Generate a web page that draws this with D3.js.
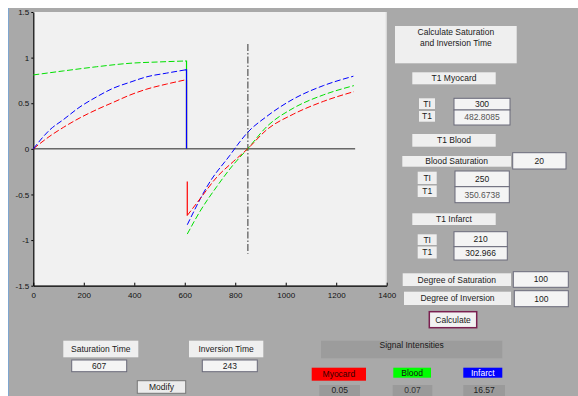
<!DOCTYPE html>
<html>
<head>
<meta charset="utf-8">
<script src="https://cdn.jsdelivr.net/npm/d3@7"></script>
<style>
  body { margin: 0; background: #fff; }
  text { font-family: "Liberation Sans", Arial, sans-serif; }
</style>
</head>
<body>
<svg id="fig" width="578" height="396"></svg>
<script>
// axis ticks
const xTicks = [0, 200, 400, 600, 800, 1000, 1200, 1400];
const yTicks = [-1.5, -1, -0.5, 0, 0.5, 1, 1.5];

// timing (ms)
const satTime = 607;
const invTime = 243;
const tiLine = satTime + invTime;
const zeroEnd = 1275;

// saturation recovery phase, [t, Mz]
const myoSat   = [[0,0],[66,0.14],[119,0.235],[185,0.34],[251,0.43],[317,0.51],[383,0.59],[450,0.655],[528,0.71],[601,0.755]];
const bloodSat = [[0,0.81],[119,0.854],[251,0.90],[383,0.938],[502,0.953],[601,0.963]];
const infSat   = [[0,0],[66,0.21],[119,0.32],[185,0.46],[251,0.57],[317,0.665],[383,0.73],[450,0.79],[528,0.83],[601,0.865]];

// inversion recovery phase, [t, Mz]
const myoInv   = [[610,-0.73],[660,-0.55],[727,-0.31],[792,-0.14],[849,0],[925,0.21],[1030,0.38],[1149,0.52],[1270,0.627]];
const bloodInv = [[610,-0.934],[660,-0.687],[727,-0.413],[792,-0.175],[849,0],[925,0.244],[1030,0.446],[1149,0.591],[1270,0.693]];
const infInv   = [[610,-0.832],[700,-0.36],[779,-0.07],[819,0.08],[845,0.168],[925,0.356],[1030,0.546],[1149,0.693],[1268,0.796]];

// drop lines at the pulses
const myoDrop = [[610,-0.358],[610,-0.73]];

const colors = { myo: "#ff0000", blood: "#00e000", inf: "#0000ff" };

const svg = d3.select("#fig");

// figure background
svg.append("rect").attr("x", 9).attr("y", 8).attr("width", 569).attr("height", 388).attr("fill", "#a9a9a9");
svg.append("line").attr("x1", 8.5).attr("x2", 8.5).attr("y1", 8).attr("y2", 396)
  .attr("stroke", "#7fa6cf").attr("stroke-width", 1);

// axes
const x = d3.scaleLinear().domain([0, 1400]).range([33.3, 386.7]);
const y = d3.scaleLinear().domain([-1.5, 1.5]).range([285.7, 12]);

svg.append("rect")
  .attr("x", x(0)).attr("y", y(1.5))
  .attr("width", x(1400) - x(0)).attr("height", y(-1.5) - y(1.5))
  .attr("fill", "#f1f1f1");
svg.append("line").attr("x1", x(1400) - 0.5).attr("x2", x(1400) - 0.5).attr("y1", y(1.5)).attr("y2", y(-1.5))
  .attr("stroke", "#d8d8d8");

const xAxis = svg.append("g")
  .attr("transform", `translate(0,${y(-1.5)})`)
  .call(d3.axisBottom(x).tickValues(xTicks).tickSizeInner(-3).tickSizeOuter(0).tickPadding(7).tickFormat(d3.format("d")));
const yAxis = svg.append("g")
  .attr("transform", `translate(${x(0)},0)`)
  .call(d3.axisLeft(y).tickValues(yTicks).tickSizeInner(2).tickSizeOuter(0).tickPadding(2).tickFormat(d => String(d)));

[xAxis, yAxis].forEach(g => {
  g.select(".domain").attr("stroke", "#000").attr("stroke-width", 1.2);
  g.selectAll(".tick line").attr("stroke", "#000");
  g.selectAll("text").attr("font-size", 8).attr("fill", "#111");
});

const line = d3.line().x(d => x(d[0])).y(d => y(d[1])).curve(d3.curveMonotoneX);
const straight = d3.line().x(d => x(d[0])).y(d => y(d[1]));

// zero line
svg.append("path").attr("d", straight([[0, 0], [zeroEnd, 0]]))
  .attr("fill", "none").attr("stroke", "#222").attr("stroke-width", 1);

// TI marker
svg.append("path").attr("d", straight([[tiLine, 1.15], [tiLine, -1.15]]))
  .attr("fill", "none").attr("stroke", "#555").attr("stroke-width", 1.2)
  .attr("stroke-dasharray", "7,2,1.5,2");

function curve(data, color) {
  svg.append("path").attr("d", line(data))
    .attr("fill", "none").attr("stroke", color).attr("stroke-width", 1)
    .attr("stroke-dasharray", "6,2.5");
}
function drop(data, color) {
  svg.append("path").attr("d", straight(data))
    .attr("fill", "none").attr("stroke", color).attr("stroke-width", 1.2);
}

curve(myoSat, colors.myo);
curve(bloodSat, colors.blood);
curve(infSat, colors.inf);
drop([[satTime, myoSat[myoSat.length - 1][1]], [satTime, 0]], colors.myo);
drop([[satTime - 6, bloodSat[bloodSat.length - 1][1]], [satTime, bloodSat[bloodSat.length - 1][1]], [satTime, 0]], colors.blood);
drop([[satTime - 6, infSat[infSat.length - 1][1]], [satTime, infSat[infSat.length - 1][1]], [satTime, 0]], colors.inf);
drop(myoDrop, colors.myo);
curve(bloodInv, colors.blood);
curve(infInv, colors.inf);
curve(myoInv, colors.myo);

// GUI widgets
function widget(x0, y0, x1, y1, opt) {
  const g = svg.append("g");
  g.append("rect").attr("x", x0).attr("y", y0).attr("width", x1 - x0).attr("height", y1 - y0)
    .attr("fill", opt.fill || "#efefef")
    .attr("stroke", opt.stroke || "none").attr("stroke-width", opt.sw || 1);
  const lines = [].concat(opt.text || []);
  lines.forEach((t, i) => {
    g.append("text")
      .attr("x", (x0 + x1) / 2)
      .attr("y", opt.ty !== undefined ? opt.ty + i * 11 : (y0 + y1) / 2)
      .attr("dy", "0.35em")
      .attr("text-anchor", "middle")
      .attr("font-size", opt.fs || 8.5)
      .attr("fill", opt.color || "#1a1a1a")
      .text(t);
  });
}
const edit = { fill: "#f4f4f4", stroke: "#6a6a7a" };

widget(395, 26, 516.7, 63.3, { text: ["Calculate Saturation", "and Inversion Time"], ty: 32.5 });

widget(412.3, 72.3, 495.7, 84.3, { text: "T1 Myocard" });
widget(419, 98.3, 435, 109, { text: "TI" });
widget(419, 111, 435, 121.7, { text: "T1" });
widget(454, 98.3, 510, 110, { ...edit, text: "300" });
widget(454, 110, 510, 125, { ...edit, text: "482.8085", color: "#555" });

widget(412.3, 134, 495.7, 146.7, { text: "T1 Blood" });
widget(402.3, 156, 511, 166.7, { text: "Blood Saturation" });
widget(512.7, 152.7, 566, 169, { ...edit, text: "20" });
widget(417.7, 171.7, 436.7, 184, { text: "TI" });
widget(417.7, 185.5, 436.7, 197, { text: "T1" });
widget(455, 171, 509.3, 186.7, { ...edit, text: "250" });
widget(455, 186.7, 509.3, 202.7, { ...edit, text: "350.6738", color: "#555" });

widget(412.3, 213.3, 495.7, 225, { text: "T1 Infarct" });
widget(417.7, 234.3, 436.7, 245, { text: "TI" });
widget(417.7, 246.5, 436.7, 258.5, { text: "T1" });
widget(454, 231.7, 507.3, 246.7, { ...edit, text: "210" });
widget(454, 246.7, 507.3, 260, { ...edit, text: "302.966" });

widget(402.7, 273.3, 511, 286, { text: "Degree of Saturation" });
widget(513.3, 271.7, 568.3, 287.3, { ...edit, text: "100" });
widget(404, 291.7, 511, 305, { text: "Degree of Inversion" });
widget(514.3, 290.7, 568.3, 306.7, { ...edit, text: "100" });
widget(429.3, 311.7, 476.7, 327.7, { fill: "#f2f2f2", stroke: "#7a2050", sw: 1.5, text: "Calculate" });

widget(321, 340.7, 502.3, 358.3, { fill: "#9c9c9c", text: "Signal Intensities", ty: 345.5 });
widget(311.7, 367.7, 366, 380.7, { fill: "#ff0000", text: "Myocard", color: "#300" });
widget(393.3, 367.7, 431, 377.7, { fill: "#00ff00", text: "Blood", color: "#111" });
widget(463.3, 367.7, 502.3, 377.7, { fill: "#0000ff", text: "Infarct", color: "#fff" });
widget(319.3, 385, 360, 398, { fill: "#9a9a9a", text: "0.05", color: "#222", ty: 390.5 });
widget(392.7, 385, 432.3, 398, { fill: "#9a9a9a", text: "0.07", color: "#333", ty: 390.5 });
widget(463.3, 385, 505, 398, { fill: "#9a9a9a", text: "16.57", color: "#222", ty: 390.5 });

widget(63.3, 340.7, 138.3, 357.3, { text: "Saturation Time" });
widget(71.7, 360, 126.7, 371.7, { ...edit, text: String(satTime) });
widget(189, 340.7, 263.3, 357.3, { text: "Inversion Time" });
widget(202.3, 360, 257.3, 371.7, { ...edit, text: String(invTime) });
widget(137.3, 380.7, 185.7, 393.3, { fill: "#ececec", stroke: "#777", text: "Modify" });
</script>
</body>
</html>
